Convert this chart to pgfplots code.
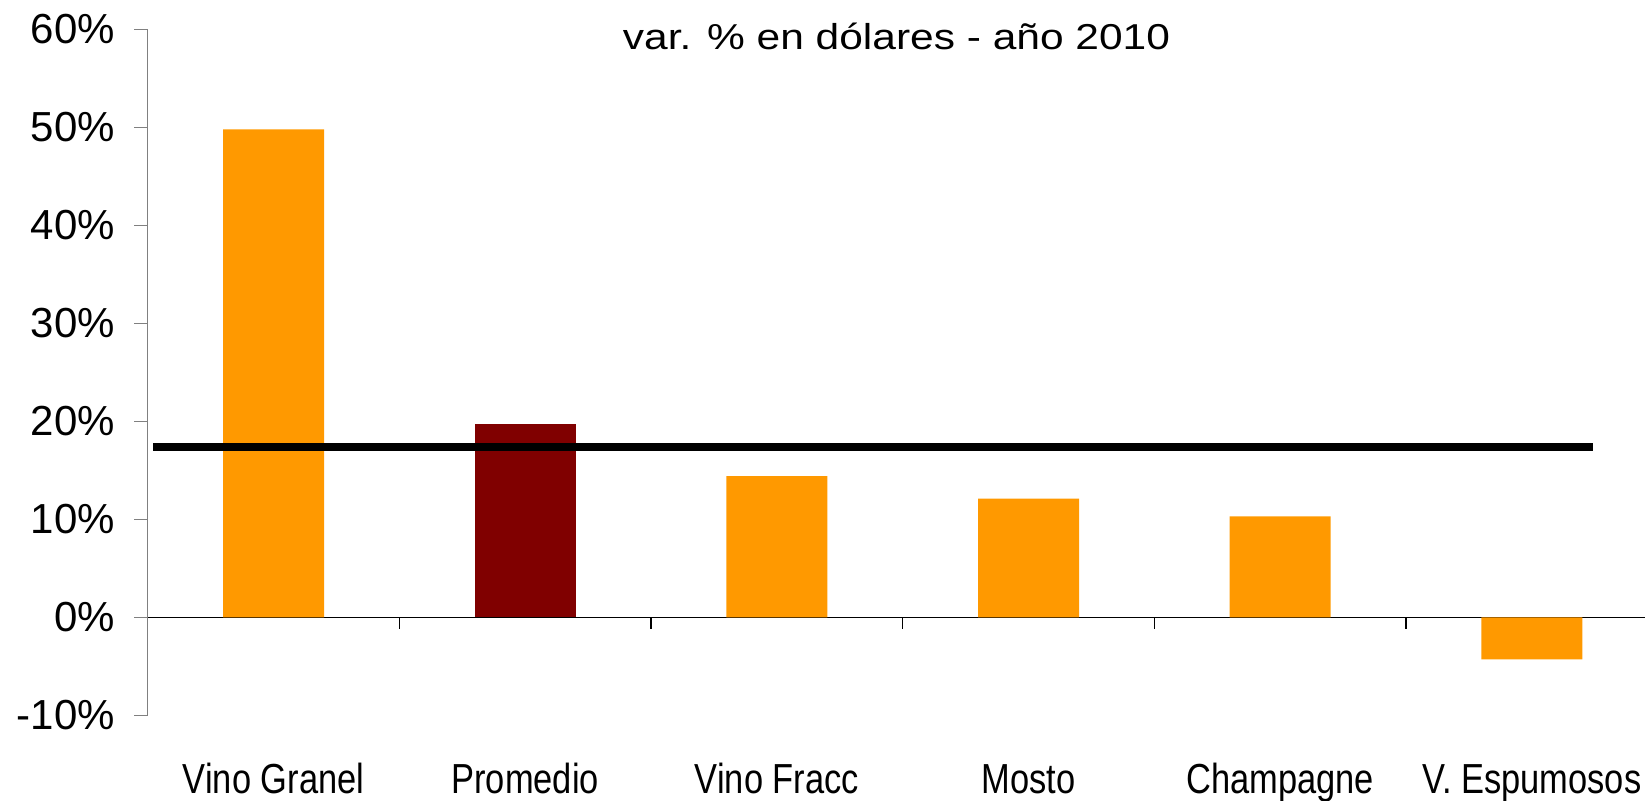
\documentclass[border=0pt]{standalone}
\usepackage{graphicx}
\usepackage{fontspec}
\setmainfont{Liberation Sans}
\usepackage{pgfplots}
\pgfplotsset{compat=1.18}
\usetikzlibrary{calc}
\definecolor{barorange}{RGB}{255,153,0}
\definecolor{bardred}{RGB}{128,0,0}
\definecolor{axgray}{RGB}{128,128,128}
\newcommand{\nar}[1]{\scalebox{0.82}[1]{#1}}
\begin{document}
\begin{tikzpicture}
\begin{axis}[
  name=ax,
  scale only axis,
  width=755pt, height=343pt,
  xmin=0, xmax=6, ymin=-10, ymax=60,
  clip=false,
  axis y line=left, axis x line=middle,
  axis line style={-},
  y axis line style={axgray, line width=0.6pt},
  x axis line style={black, line width=0.6pt},
  tick align=outside,
  ytick={-10,0,10,20,30,40,50,60},
  yticklabel={\pgfmathprintnumber{\tick}\%},
  /pgf/number format/assume math mode=true,
  ytick style={axgray, line width=0.6pt},
  major tick length=6.7pt,
  minor tick length=5.7pt,
  yticklabel style={anchor=east, inner sep=0pt, xshift=-9.5pt, font=\fontsize{21}{25}\selectfont},
  xtick={0.5,1.5,2.5,3.5,4.5,5.5},
  xticklabels={\nar{Vino Granel},\nar{Promedio},\nar{Vino Fracc},\nar{Mosto},\nar{Champagne},\nar{V. Espumosos}},
  major x tick style={draw=none},
  minor xtick={0,1,2,3,4,5,6},
  minor x tick style={draw=black, line width=0.6pt},
  xticklabel style={anchor=base, inner sep=0pt, yshift=-81.2pt, font=\fontsize{21}{25}\selectfont},
  ybar, bar width=50.5pt,
]
\addplot[ybar, bar shift=0pt, fill=barorange, draw=none] coordinates {(0.5,49.8) (2.5,14.4) (3.5,12.1) (4.5,10.3) (5.5,-4.3)};
\addplot[ybar, bar shift=0pt, fill=bardred, draw=none] coordinates {(1.5,19.7)};
\addplot[sharp plot, black, line width=3.85pt, no marks] coordinates {(0.023,17.4) (5.741,17.4)};
\node[anchor=base, inner sep=0pt, font=\fontsize{18}{21}\selectfont] at ([yshift=-9.9pt]rel axis cs:0.4959,1) {\scalebox{1.18}[1]{var. \% en dólares - año 2010}};
\end{axis}
\pgfresetboundingbox
\path[use as bounding box] ($(ax.south west)+(-73.85pt,-42.5pt)$) rectangle ($(ax.north east)+(-6.35pt,14.65pt)$);
\end{tikzpicture}
\end{document}
